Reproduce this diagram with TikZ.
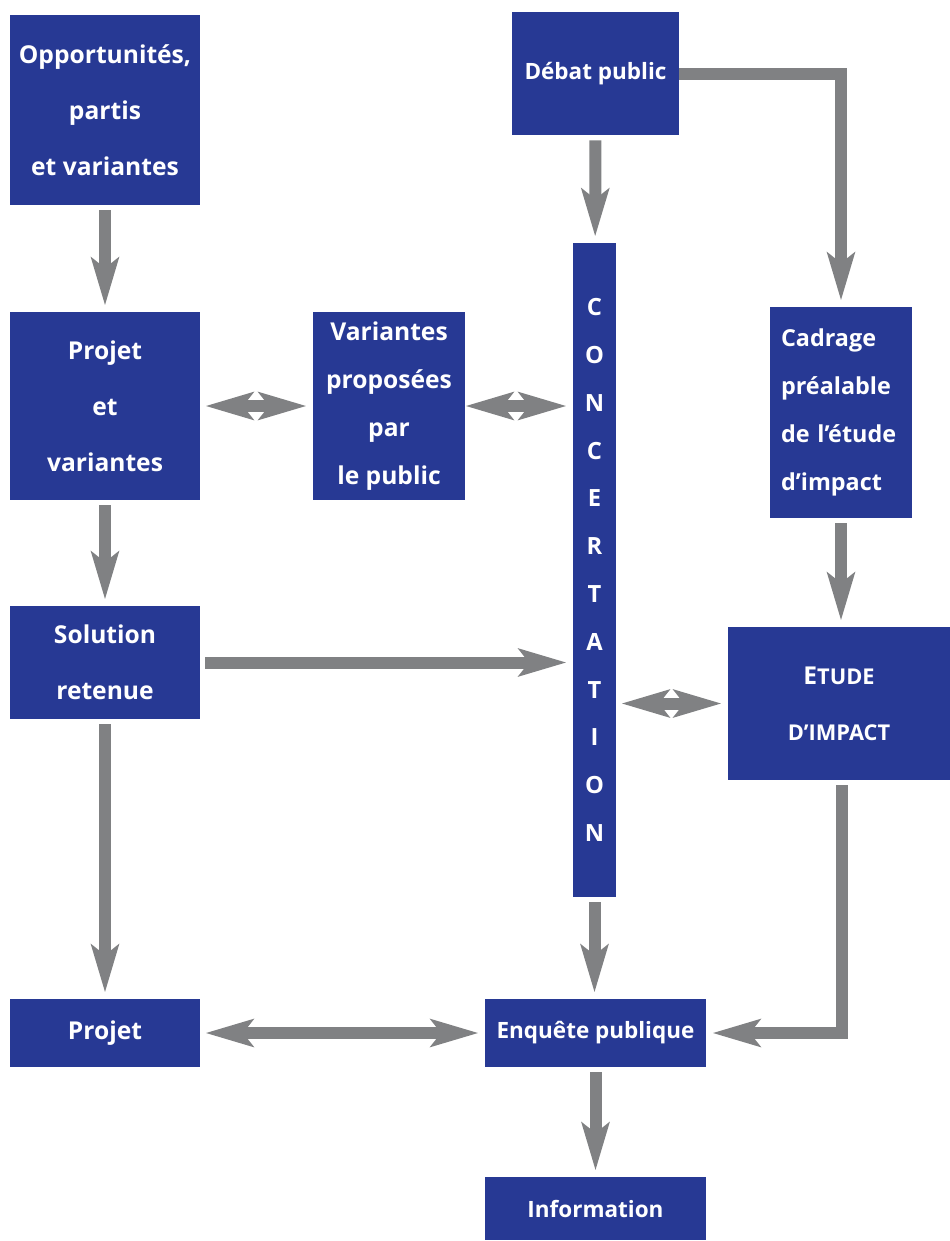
\documentclass[tikz,border=0pt]{standalone}
\usepackage{fontspec}
\setmainfont{Open Sans}
\usetikzlibrary{arrows.meta}

\definecolor{boxblue}{RGB}{39,57,148}
\definecolor{arrowgray}{RGB}{128,129,131}

\tikzset{
    box/.style={fill=boxblue, text=white, inner sep=0pt, align=center,
        font=\bfseries\fontsize{14}{31.8}\selectfont},
    tight box/.style={box, font=\bfseries\fontsize{14}{27.3}\selectfont},
    small box/.style={box, font=\bfseries\fontsize{12.8}{27}\selectfont},
    flow/.style={draw=arrowgray, line width=0.24cm,
        -{Stealth[length=0.95cm,width=0.54cm,inset=0.2cm]},
        shorten <=0.1cm, shorten >=0.12cm},
    both flow/.style={flow, {Stealth[length=0.95cm,width=0.54cm,inset=0.2cm]}-{Stealth[length=0.95cm,width=0.54cm,inset=0.2cm]}}
}
\newcommand{\smallcap}[1]{{\fontsize{12.4}{12}\selectfont #1}}

\begin{document}
\begin{tikzpicture}[x=0.02cm, y=-0.02cm]
    \useasboundingbox (0,0) rectangle (950,1241);

    % left column
    \node[box, minimum width=3.8cm, minimum height=3.8cm] (opp) at (105,110) {Opportunités,\\partis\\et variantes};
    \node[box, minimum width=3.8cm, minimum height=3.76cm] (projvar) at (105,406) {Projet\\et\\variantes};
    \node[box, minimum width=3.8cm, minimum height=2.26cm] (solution) at (105,662.5) {Solution\\retenue};
    \node[box, minimum width=3.8cm, minimum height=1.36cm] (projet) at (105,1033) {Projet};

    % middle
    \node[tight box, minimum width=3.04cm, minimum height=3.76cm] (varpub) at (389,406) {Variantes\\proposées\\par\\le public};
    \node[small box, minimum width=3.34cm, minimum height=2.46cm] (debat) at (595.5,73.5) {Débat public};
    \node[box, minimum width=0.86cm, minimum height=13.08cm,
          font=\bfseries\fontsize{13.5}{27.2}\selectfont] (concert) at (594.5,570)
          {C\\O\\N\\C\\E\\R\\T\\A\\T\\I\\O\\N};
    \node[small box, minimum width=4.42cm, minimum height=1.36cm] (enquete) at (595.5,1033) {Enquête publique};
    \node[small box, minimum width=4.42cm, minimum height=1.26cm] (info) at (595.5,1208.5) {Information};

    % right column
    \node[tight box, minimum width=2.84cm, minimum height=4.22cm, text width=2.4cm, align=left,
          font=\bfseries\fontsize{13.3}{27.3}\selectfont] (cadrage) at (841,412.5)
          {Cadrage\\préalable\\de l’étude\\d’impact};
    \node[box, minimum width=4.44cm, minimum height=3.06cm] (etude) at (839,703.5)
          {E\smallcap{TUDE}\\\smallcap{D’IMPACT}};

    % connectors
    \draw[flow] (opp) -- (projvar);
    \draw[flow] (projvar) -- (solution);
    \draw[flow] (solution) -- (projet);
    \draw[flow] (debat) -- (concert);
    \draw[flow, shorten <=0pt] (debat.east) -| (cadrage.north);
    \draw[flow] (cadrage.south) -- (cadrage.south |- etude.north);
    \draw[flow] (solution.east) -- (solution.east -| concert.west);
    \draw[flow] (concert.south) -- (concert.south |- enquete.north);
    \draw[flow] ([xshift=0.06cm]etude.south) |- (enquete.east);
    \draw[flow] (enquete) -- (info);
    \draw[both flow] (projvar) -- (varpub);
    \draw[both flow, shorten <=0pt] (varpub.east) -- (varpub.east -| concert.west);
    \draw[both flow] (etude.west -| concert.east) -- (etude.west);
    \draw[both flow] (projet) -- (enquete);
\end{tikzpicture}
\end{document}
